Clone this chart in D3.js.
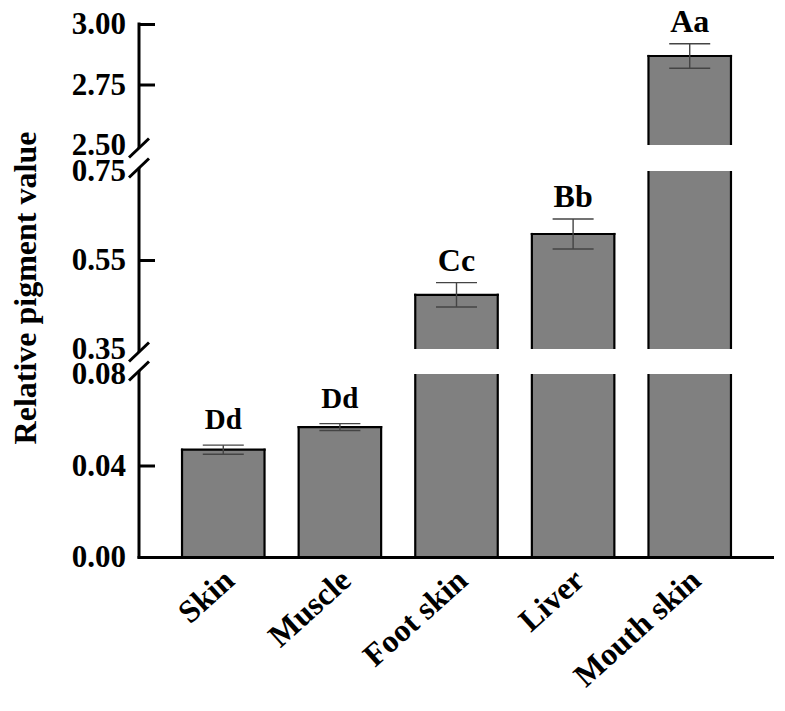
<!DOCTYPE html>
<html>
<head>
<meta charset="utf-8">
<script src="https://cdn.jsdelivr.net/npm/d3@7"></script>
<style>
  html, body { margin: 0; padding: 0; background: #fff; }
  svg { display: block; }
  text { font-family: "Liberation Serif", "Times New Roman", serif; font-weight: bold; fill: #000; }
</style>
</head>
<body>
<svg id="chart" width="785" height="711"></svg>
<script>
// ---- data ----
const categories = ["Skin", "Muscle", "Foot skin", "Liver", "Mouth skin"];
const values     = [0.0469, 0.0568, 0.4718, 0.6084, 2.8678];
const errors     = [0.0020, 0.0015, 0.0273, 0.0337, 0.0508];
const letters    = ["Dd", "Dd", "Cc", "Bb", "Aa"];
const ticksBottom = [0.00, 0.04, 0.08];
const ticksMiddle = [0.35, 0.55, 0.75];
const ticksTop    = [2.50, 2.75, 3.00];
const yTitle = "Relative pigment value";

// ---- layout ----
const svg = d3.select("#chart");
const axisX = 139;

const x = d3.scaleBand().domain(categories).range([axisX, 774])
  .paddingInner(0.2925).paddingOuter(0.369);

const segments = [
  { domain: [0.00, 0.08], range: [557, 374], ticks: ticksBottom, showTick: [false, true, false] },
  { domain: [0.35, 0.75], range: [349, 171], ticks: ticksMiddle, showTick: [false, true, false] },
  { domain: [2.50, 3.00], range: [145, 24],  ticks: ticksTop,    showTick: [false, true, true] }
];
segments.forEach(s => { s.scale = d3.scaleLinear().domain(s.domain).range(s.range); });

function segOf(v) {
  for (const s of segments) if (v >= s.domain[0] && v <= s.domain[1]) return s;
  return segments[segments.length - 1];
}

// ---- bars (split across segments) ----
const gBars = svg.append("g");
categories.forEach((c, i) => {
  const v = values[i];
  const x0 = x(c), w = x.bandwidth();
  segments.forEach(s => {
    if (v <= s.domain[0]) return;
    const ends = v <= s.domain[1];
    const topV = Math.min(v, s.domain[1]);
    const yT = s.scale(topV), yB = s.scale(s.domain[0]);
    gBars.append("rect").attr("x", x0).attr("y", yT).attr("width", w).attr("height", yB - yT)
      .attr("fill", "#808080");
    [x0, x0 + w].forEach(xx => {
      gBars.append("line").attr("x1", xx).attr("x2", xx).attr("y1", yT - (ends ? 1.1 : 0)).attr("y2", yB)
        .attr("stroke", "#000").attr("stroke-width", 2.2);
    });
    if (ends) {
      gBars.append("line").attr("x1", x0 - 1.1).attr("x2", x0 + w + 1.1).attr("y1", yT).attr("y2", yT)
        .attr("stroke", "#000").attr("stroke-width", 2.2);
    }
  });
});

// ---- error bars ----
const gErr = svg.append("g").attr("stroke", "#444").attr("stroke-width", 1.4);
categories.forEach((c, i) => {
  const cx = x(c) + x.bandwidth() / 2;
  const s = segOf(values[i]);
  const yHi = s.scale(values[i] + errors[i]);
  const yLo = s.scale(values[i] - errors[i]);
  gErr.append("line").attr("x1", cx).attr("x2", cx).attr("y1", yHi).attr("y2", yLo);
  gErr.append("line").attr("x1", cx - 20.5).attr("x2", cx + 20.5).attr("y1", yHi).attr("y2", yHi);
  gErr.append("line").attr("x1", cx - 20.5).attr("x2", cx + 20.5).attr("y1", yLo).attr("y2", yLo);
});

// ---- significance letters ----
categories.forEach((c, i) => {
  const cx = x(c) + x.bandwidth() / 2;
  const s = segOf(values[i]);
  const yHi = s.scale(values[i] + errors[i]);
  const small = s === segments[0];
  svg.append("text").attr("x", cx).attr("y", yHi - (small ? 16 : 12))
    .attr("text-anchor", "middle").attr("font-size", small ? 29 : 32)
    .text(letters[i]);
});

// ---- y axis segments ----
segments.forEach((s, k) => {
  const axis = d3.axisLeft(s.scale).tickValues(s.ticks)
    .tickFormat(d3.format(".2f")).tickSizeInner(-16).tickSizeOuter(0).tickPadding(13);
  const g = svg.append("g").attr("transform", `translate(${axisX},0)`).call(axis);
  g.select(".domain").remove();
  g.selectAll(".tick line").attr("stroke", "#000").attr("stroke-width", 3)
    .attr("display", (d, j) => s.showTick[j] ? null : "none");
  g.selectAll(".tick text").attr("font-size", 31).attr("fill", "#000")
    .style("font-family", '"Liberation Serif", "Times New Roman", serif').style("font-weight", "bold");
  const yStart = s.range[0] + (k === 0 ? 1.5 : 3);
  const yEnd = s.range[1] - (k === segments.length - 1 ? 1.5 : 3);
  svg.append("line").attr("x1", axisX).attr("x2", axisX).attr("y1", yStart).attr("y2", yEnd)
    .attr("stroke", "#000").attr("stroke-width", 3);
  const slash = (yc) => svg.append("line")
    .attr("x1", axisX - 10).attr("y1", yc + 9.5).attr("x2", axisX + 10).attr("y2", yc - 9.5)
    .attr("stroke", "#000").attr("stroke-width", 3);
  if (k > 0) slash(s.range[0] + 3);
  if (k < segments.length - 1) slash(s.range[1] - 3);
});

// ---- x axis ----
svg.append("line").attr("x1", axisX - 1.5).attr("x2", 774).attr("y1", 557.5).attr("y2", 557.5)
  .attr("stroke", "#000").attr("stroke-width", 3);
const gX = svg.append("g");
categories.forEach(c => {
  const cx = x(c) + x.bandwidth() / 2;
  gX.append("text").attr("transform", `translate(${cx + 13},${583}) rotate(-42)`)
    .attr("text-anchor", "end").attr("font-size", 32).text(c);
});

// ---- y title ----
svg.append("text").attr("transform", "translate(36,288) rotate(-90)")
  .attr("text-anchor", "middle").attr("font-size", 32).text(yTitle);
</script>
</body>
</html>
